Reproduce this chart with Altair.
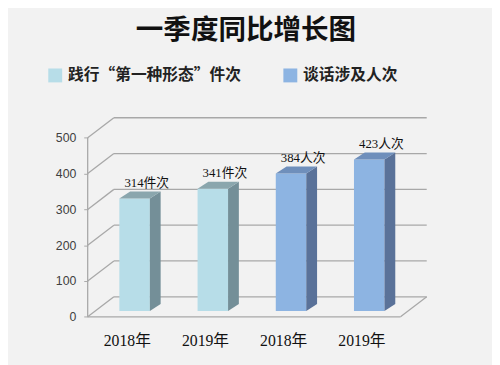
import altair as alt
import pandas as pd

# ---- data ----
years = ["2018年", "2019年", "2018年", "2019年"]
values = [314, 341, 384, 423]
series_names = ["践行“第一种形态”件次", "谈话涉及人次"]
bar_series = [0, 0, 1, 1]
suffixes = ["件次", "件次", "人次", "人次"]
y_ticks = [0, 100, 200, 300, 400, 500]
title_text = "一季度同比增长图"

# ---- styles / geometry (pseudo-3D) ----
front_colors = ["#b7dde8", "#8db4e2"]
side_colors = ["#748f98", "#5a7299"]
top_colors = ["#8aa6ad", "#6f8fbb"]
grid_color = "#a8a8a8"
WALL_DX, WALL_DY = 0.335, 56.0      # back-wall offset (x units, value units)
BAR_DX, BAR_DY = 0.10, 16.5         # bar front plane offset
BAR_W = 0.39
DEP_DX, DEP_DY = 0.138, 19.5        # bar depth
XU = 79.5                            # px per category
YU = 0.364                           # px per value unit
X_MAX, Y_MAX = 4.4, 600

n = len(values)

# wall / floor lines
rules = []
for v in y_ticks:
    rules.append(dict(x=WALL_DX, x2=n + WALL_DX, y=v + WALL_DY, y2=v + WALL_DY))  # back grid
    rules.append(dict(x=0, x2=WALL_DX, y=v, y2=v + WALL_DY))                      # side wall
rules.append(dict(x=0, x2=0, y=0, y2=max(y_ticks)))                              # front axis
rules.append(dict(x=0, x2=n, y=0, y2=0))                                         # floor front
rules.append(dict(x=n, x2=n + WALL_DX, y=0, y2=WALL_DY))                         # floor right
rules_df = pd.DataFrame(rules)

front, side, top, labels = [], [], [], []
for i, (v, s) in enumerate(zip(values, bar_series)):
    c = i + 0.5 + BAR_DX
    xl, xr = c - BAR_W / 2, c + BAR_W / 2
    name = series_names[s]
    front.append(dict(bar=i, series=name, x=xl, x2=xr, y=BAR_DY, y2=v + BAR_DY))
    side.append(dict(bar=i, series=name, x=xr, y=BAR_DY, y2=v + BAR_DY))
    side.append(dict(bar=i, series=name, x=xr + DEP_DX, y=BAR_DY + DEP_DY, y2=v + BAR_DY + DEP_DY))
    top.append(dict(bar=i, series=name, y=v + BAR_DY, x=xl, x2=xr))
    top.append(dict(bar=i, series=name, y=v + BAR_DY + DEP_DY, x=xl + DEP_DX, x2=xr + DEP_DX))
    labels.append(dict(x=c + 0.155, y=v + 60, text=f"{v}{suffixes[i]}"))

front_df, side_df, top_df, label_df = map(pd.DataFrame, (front, side, top, labels))

xscale = alt.Scale(domain=[0, X_MAX], nice=False, zero=False)
yscale = alt.Scale(domain=[0, Y_MAX], nice=False, zero=False)

year_expr = "[" + ",".join(f"'{y}'" for y in years) + "][floor(datum.value)]"

x_axis = alt.Axis(values=[i + 0.5 for i in range(n)], labelExpr=year_expr, title=None,
                  domain=False, ticks=False, grid=False, labelPadding=16,
                  labelFont="Liberation Serif, Noto Sans CJK SC", labelFontSize=16,
                  labelColor="#111111")
y_axis = alt.Axis(values=y_ticks, title=None, domain=False, grid=False, tickSize=4,
                  tickColor=grid_color, labelPadding=8, labelFont="Liberation Sans",
                  labelFontSize=12.5, labelColor="#404040")


def X(field="x:Q"):
    return alt.X(field, scale=xscale, axis=x_axis)


def Y(field="y:Q"):
    return alt.Y(field, scale=yscale, axis=y_axis)


grid = alt.Chart(rules_df).mark_rule(color=grid_color, strokeWidth=1.3).encode(
    x=X(), x2="x2:Q", y=Y(), y2="y2:Q")

front_layer = alt.Chart(front_df).mark_rect().encode(
    x=X(), x2="x2:Q", y=Y(), y2="y2:Q",
    color=alt.Color("series:N", scale=alt.Scale(domain=series_names, range=front_colors),
                    legend=alt.Legend(title=None, orient="none", direction="horizontal",
                                      legendX=-41, legendY=-35, symbolType="square",
                                      symbolSize=200, symbolStrokeWidth=0,
                                      labelFont="Noto Sans CJK SC", labelFontSize=16,
                                      labelFontWeight="bold", labelColor="#222222",
                                      labelLimit=0, labelOffset=5, columnPadding=41,
                                      padding=0)))

side_layer = alt.Chart(side_df).mark_area(orient="vertical").encode(
    x=X(), y=Y(), y2="y2:Q",
    detail="bar:N",
    color=alt.Color("series:N", scale=alt.Scale(domain=series_names, range=side_colors),
                    legend=None))

top_layer = alt.Chart(top_df).mark_area(orient="horizontal").encode(
    y=Y(), x=X(), x2="x2:Q",
    detail="bar:N",
    color=alt.Color("series:N", scale=alt.Scale(domain=series_names, range=top_colors),
                    legend=None))

text_layer = alt.Chart(label_df).mark_text(
    font="Liberation Serif, Noto Sans CJK SC", fontSize=13, color="#111111",
    baseline="middle", align="center").encode(
    x=X(), y=Y(), text="text:N")

W = X_MAX * XU
H = Y_MAX * YU
PL, PT = 81, 92.6
PR = 492 - PL - W
PB = 357 - PT - H

chart = alt.layer(grid, front_layer, side_layer, top_layer, text_layer).resolve_scale(
    color="independent"
).properties(
    width=W, height=H,
    autosize=alt.AutoSizeParams(type="none"),
    padding={"left": PL, "top": PT, "right": PR, "bottom": PB},
    background="#f2f2f2",
    title=alt.TitleParams(title_text, font="Noto Sans CJK SC", fontSize=28,
                          fontWeight="bold", color="#111111", anchor="middle",
                          dx=-14, offset=23),
).configure_view(stroke=None)

chart.save("out.html", embed_options={"renderer": "svg", "actions": False})
